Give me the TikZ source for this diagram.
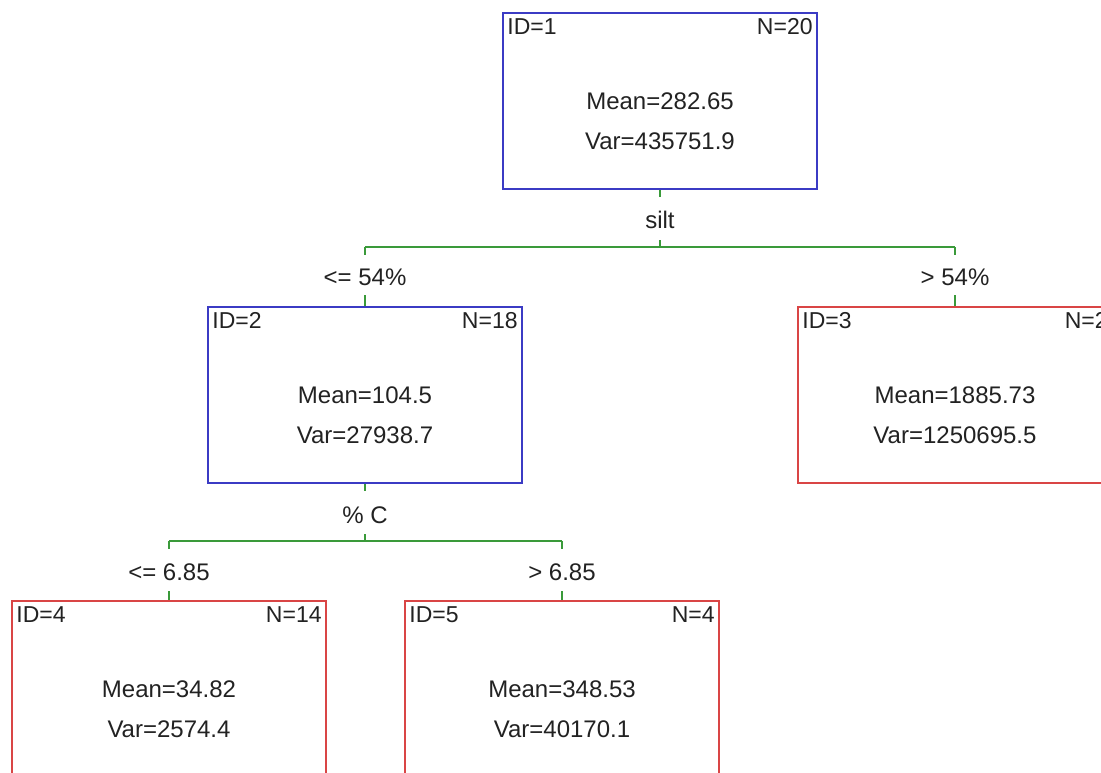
\documentclass[tikz,border=0pt]{standalone}
\usepackage{fontspec}
\setmainfont{Liberation Sans}
\definecolor{bblue}{HTML}{3B3BC4}
\definecolor{rred}{HTML}{D94545}
\definecolor{ggreen}{HTML}{3A9A3A}
\definecolor{txt}{HTML}{222222}
\begin{document}
\begin{tikzpicture}[x=1pt,y=-1pt,
 box/.style={draw, line width=1.6pt, minimum width=314pt, minimum height=176pt, inner sep=0pt},
 blbox/.style={box, draw=bblue},
 rdbox/.style={box, draw=rred},
 conn/.style={draw=ggreen, line width=1.4pt},
 lab/.style={text=txt, font=\fontsize{24}{28}\selectfont, inner sep=0pt, anchor=base},
 cornerw/.style={text=txt, font=\fontsize{23}{27}\selectfont, inner sep=0pt, anchor=base west},
 cornere/.style={text=txt, font=\fontsize{23}{27}\selectfont, inner sep=0pt, anchor=base east}]
\useasboundingbox (0,0) rectangle (1101,773);
\fill[white] (0,0) rectangle (1101,773);

% boxes
\node[blbox] (b1) at (660,101) {};
\node[blbox] (b2) at (365,395) {};
\node[rdbox] (b3) at (955,395) {};
\node[rdbox] (b4) at (169,689) {};
\node[rdbox] (b5) at (562,689) {};

% box texts
\foreach \b/\i/\n/\m/\v in {b1/1/20/282.65/435751.9, b2/2/18/104.5/27938.7, b3/3/2/1885.73/1250695.5, b4/4/14/34.82/2574.4, b5/5/4/348.53/40170.1}{
  \node[cornerw] (\b id) at ([xshift=5pt,yshift=-22pt]\b.north west) {ID=\i};
  \node[cornere] (\b n) at ([xshift=-5pt,yshift=-22pt]\b.north east) {N=\n};
  \node[lab] (\b m) at ([yshift=-97pt]\b.north) {Mean=\m};
  \node[lab] (\b v) at ([yshift=-137pt]\b.north) {Var=\v};
}

% split and edge labels
\node[lab] (s1) at (660,229) {silt};
\node[lab] (e2) at (365,285) {<= 54\%};
\node[lab] (e3) at (955,285) {> 54\%};
\node[lab] (s2) at (365,523) {\% C};
\node[lab] (e4) at (169,580) {<= 6.85};
\node[lab] (e5) at (562,580) {> 6.85};

% junction coordinates
\coordinate (a1) at (660,197);
\coordinate (c1) at (660,240);
\coordinate (j1) at (660,247);
\coordinate (j1l) at (365,247);
\coordinate (j1r) at (955,247);
\coordinate (d2) at (365,255);
\coordinate (d3) at (955,255);
\coordinate (u2) at (365,295);
\coordinate (u3) at (955,295);

\coordinate (a2) at (365,491);
\coordinate (c2) at (365,534);
\coordinate (j2) at (365,541);
\coordinate (j2l) at (169,541);
\coordinate (j2r) at (562,541);
\coordinate (d4) at (169,549);
\coordinate (d5) at (562,549);
\coordinate (u4) at (169,591);
\coordinate (u5) at (562,591);

% connectors
\draw[conn] (b1.south) -- (a1);
\draw[conn] (c1) -- (j1);
\draw[conn] (j1l) -- (j1r);
\draw[conn] (j1l) -- (d2);
\draw[conn] (j1r) -- (d3);
\draw[conn] (u2) -- (b2.north);
\draw[conn] (u3) -- (b3.north);

\draw[conn] (b2.south) -- (a2);
\draw[conn] (c2) -- (j2);
\draw[conn] (j2l) -- (j2r);
\draw[conn] (j2l) -- (d4);
\draw[conn] (j2r) -- (d5);
\draw[conn] (u4) -- (b4.north);
\draw[conn] (u5) -- (b5.north);
\end{tikzpicture}
\end{document}
